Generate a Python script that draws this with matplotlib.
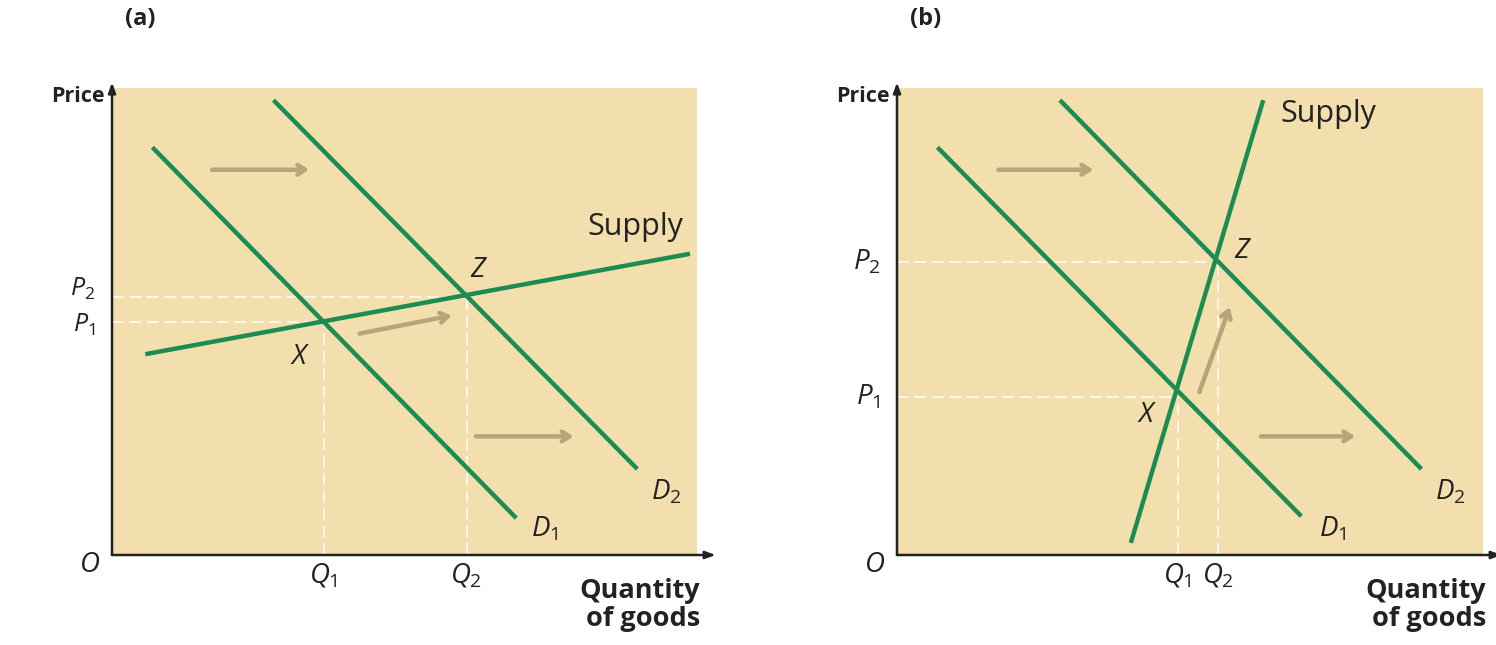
import matplotlib
matplotlib.use("Agg")
import matplotlib.pyplot as plt
from matplotlib.transforms import ScaledTranslation

plt.rcParams['font.family'] = ['Open Sans', 'DejaVu Sans']
plt.rcParams['mathtext.fontset'] = 'custom'
plt.rcParams['mathtext.it'] = 'Open Sans:italic'
plt.rcParams['mathtext.rm'] = 'Open Sans'

# ---- data (0-100 scale in each panel) ----
panel_titles = ["(a)", "(b)"]

# Panel (a): flat supply
a_d1_x = [6.9, 69.1]
a_d1_y = [87.3, 7.9]
a_d2_x = [27.6, 89.8]
a_d2_y = [97.4, 18.4]
a_s_x = [5.7, 98.8]
a_s_y = [43.0, 64.5]
a_eq_q = [36.2, 60.6]   # Q1, Q2
a_eq_p = [50.0, 55.3]   # P1, P2
a_arrows = [((17.1, 82.5), (33.7, 82.5)),
            ((42.3, 47.4), (58.1, 51.3)),
            ((62.2, 25.4), (78.9, 25.4))]

# Panel (b): steep supply
b_d1_x = [6.9, 69.0]
b_d1_y = [87.3, 8.3]
b_d2_x = [27.8, 89.5]
b_d2_y = [97.4, 18.4]
b_s_x = [39.9, 62.5]
b_s_y = [2.6, 97.4]
b_eq_q = [47.9, 54.8]
b_eq_p = [33.8, 62.7]
b_arrows = [((17.3, 82.5), (33.5, 82.5)),
            ((51.6, 34.9), (56.8, 53.1)),
            ((62.1, 25.4), (78.2, 25.4))]

p_labels = [r'$P_1$', r'$P_2$']
q_labels = [r'$Q_1$', r'$Q_2$']

BG = '#f3dfae'
GREEN = '#1b8c52'
ARROW = '#b8a37a'
INK = '#222222'

fig = plt.figure(figsize=(14.96, 6.45), dpi=100)
axes_rects = [[112/1496, 90/645, 585/1496, 467/645],
              [897/1496, 90/645, 586/1496, 467/645]]


def draw_panel(ax, d1x, d1y, d2x, d2y, sx, sy, eq_q, eq_p, arrows, labels, title):
    ax.set_xlim(0, 100)
    ax.set_ylim(0, 100)
    ax.set_facecolor(BG)
    for sp in ax.spines.values():
        sp.set_visible(False)
    # dashed guides
    for q, p in zip(eq_q, eq_p):
        ax.plot([0, q], [p, p], color='white', lw=1.4, ls=(0, (6, 3)), alpha=0.8, zorder=1)
        ax.plot([q, q], [0, p], color='white', lw=1.4, ls=(0, (6, 3)), alpha=0.8, zorder=1)
    # curves
    ax.plot(d1x, d1y, color=GREEN, lw=3.2, solid_capstyle='butt', zorder=3)
    ax.plot(d2x, d2y, color=GREEN, lw=3.2, solid_capstyle='butt', zorder=3)
    ax.plot(sx, sy, color=GREEN, lw=3.2, solid_capstyle='butt', zorder=3)
    # shift arrows
    for (x0, y0), (x1, y1) in arrows:
        ax.annotate('', xy=(x1, y1), xytext=(x0, y0),
                    arrowprops=dict(arrowstyle='->,head_length=0.55,head_width=0.35',
                                    color=ARROW, lw=3.2, shrinkA=0, shrinkB=0),
                    zorder=2)
    # Q labels as x ticks
    ax.set_xticks(eq_q)
    ax.set_xticklabels(q_labels, fontsize=20, color=INK)
    ax.set_yticks([])
    ax.tick_params(length=0)
    ax.tick_params(axis='x', pad=5)
    # P labels next to the price axis
    ytrans = ax.get_yaxis_transform()
    for p, lab, dy in zip(eq_p, p_labels, labels['p_dy']):
        off = ScaledTranslation(-12 / 72, dy / 72, fig.dpi_scale_trans)
        ax.text(0, p, lab, transform=ytrans + off, ha='right', va='center',
                fontsize=labels['p_fs'], color=INK)
    # axes with arrows
    ax.annotate('', xy=(0, 1.012), xytext=(0, 0), xycoords='axes fraction',
                arrowprops=dict(arrowstyle='-|>,head_length=0.6,head_width=0.22',
                                color=INK, lw=1.8, shrinkA=0, shrinkB=0),
                annotation_clip=False)
    ax.annotate('', xy=(1.032, 0), xytext=(0, 0), xycoords='axes fraction',
                arrowprops=dict(arrowstyle='-|>,head_length=0.6,head_width=0.22',
                                color=INK, lw=1.8, shrinkA=0, shrinkB=0),
                annotation_clip=False)
    # texts
    ax.text(-0.012, 0.982, 'Price', transform=ax.transAxes, ha='right', va='center',
            fontsize=15.5, fontweight='bold', color=INK)
    ax.text(1.005, -0.05, 'Quantity\nof goods', transform=ax.transAxes, ha='right', va='top',
            fontsize=19.5, fontweight='bold', color=INK, linespacing=1.08)
    ax.text(-0.038, -0.022, r'$O$', transform=ax.transAxes, ha='center', va='center',
            fontsize=20, color=INK)
    ax.text(labels['supply'][0], labels['supply'][1], 'Supply', ha='left', va='center',
            fontsize=22, color=INK)
    ax.text(labels['Z'][0], labels['Z'][1], r'$Z$', ha='center', va='center',
            fontsize=20, color=INK)
    ax.text(labels['X'][0], labels['X'][1], r'$X$', ha='center', va='center',
            fontsize=20, color=INK)
    ax.text(labels['D1'][0], labels['D1'][1], r'$D_1$', ha='center', va='center',
            fontsize=20, color=INK)
    ax.text(labels['D2'][0], labels['D2'][1], r'$D_2$', ha='center', va='center',
            fontsize=20, color=INK)
    ax.text(0.048, 1.148, title, transform=ax.transAxes, ha='center', va='center',
            fontsize=17, fontweight='bold', color=INK)


ax_a = fig.add_axes(axes_rects[0])
draw_panel(ax_a, a_d1_x, a_d1_y, a_d2_x, a_d2_y, a_s_x, a_s_y, a_eq_q, a_eq_p, a_arrows,
           dict(supply=(81.2, 70.2), Z=(62.8, 61.0), X=(32.1, 42.3),
                D1=(74.0, 5.5), D2=(94.8, 13.5), p_dy=[-2.5, 5.5], p_fs=18),
           panel_titles[0])

ax_b = fig.add_axes(axes_rects[1])
draw_panel(ax_b, b_d1_x, b_d1_y, b_d2_x, b_d2_y, b_s_x, b_s_y, b_eq_q, b_eq_p, b_arrows,
           dict(supply=(65.5, 94.5), Z=(59.0, 65.0), X=(42.7, 30.0),
                D1=(74.3, 5.5), D2=(94.5, 13.5), p_dy=[0, 0], p_fs=20),
           panel_titles[1])

fig.savefig('out.png', dpi=100, facecolor='white')
